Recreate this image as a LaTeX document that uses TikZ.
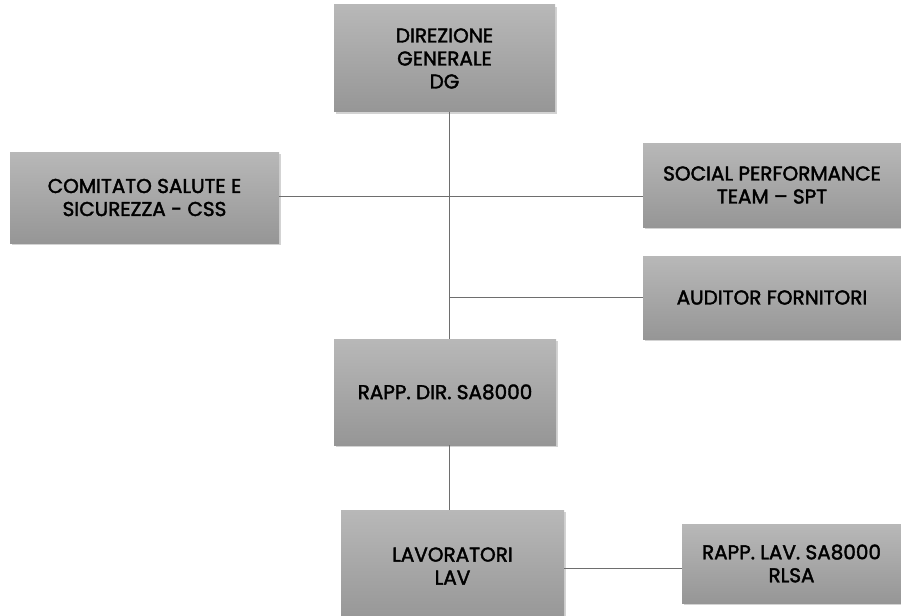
\documentclass[tikz,border=0pt]{standalone}
\usepackage{fontspec}
\setmainfont{Poppins}[RawFeature={embolden=2}]
\usetikzlibrary{shadows}
\definecolor{boxtop}{RGB}{184,184,184}
\definecolor{boxbot}{RGB}{150,150,150}
\definecolor{linec}{RGB}{110,110,110}
\tikzset{
  orgbox/.style={rectangle, top color=boxtop, bottom color=boxbot, draw=none,
    align=center, inner sep=2pt, font=\fontsize{20}{23}\selectfont,
    text=black,
    drop shadow={opacity=0.35, shadow xshift=1.5pt, shadow yshift=-2pt}},
  conn/.style={draw=linec, line width=0.9pt}
}
\begin{document}
\begin{tikzpicture}[x=1pt,y=-1pt]
\useasboundingbox (0,0) rectangle (901,615);
\node[orgbox, minimum width=221pt, minimum height=107pt] (dg) at (444.5,58.5) {DIREZIONE\\GENERALE\\DG};
\node[orgbox, minimum width=269pt, minimum height=91pt] (css) at (144.5,197.5) {COMITATO SALUTE E\\SICUREZZA - CSS};
\node[orgbox, minimum width=258pt, minimum height=84pt] (spt) at (772,185) {SOCIAL PERFORMANCE\\TEAM -- SPT};
\node[orgbox, minimum width=258pt, minimum height=83pt] (aud) at (772,297.5) {AUDITOR FORNITORI};
\node[orgbox, minimum width=222pt, minimum height=106pt] (rapp) at (445,392) {RAPP. DIR. SA8000};
\node[orgbox, minimum width=223pt, minimum height=112pt] (lav) at (452.5,566) {LAVORATORI\\LAV};
\node[orgbox, minimum width=219pt, minimum height=79pt] (rlsa) at (791.5,563.5) {RAPP. LAV. SA8000\\RLSA};
\coordinate (sp) at (449,0);
\coordinate (h1) at (0,196);
\coordinate (h2) at (0,568);
\draw[conn] (dg.south -| sp) -- (rapp.north -| sp);
\draw[conn] (css.east |- h1) -- (spt.west |- h1);
\draw[conn] (sp |- aud.west) -- (aud.west);
\draw[conn] (rapp.south -| sp) -- (lav.north -| sp);
\draw[conn] (lav.east |- h2) -- (rlsa.west |- h2);
\end{tikzpicture}
\end{document}
